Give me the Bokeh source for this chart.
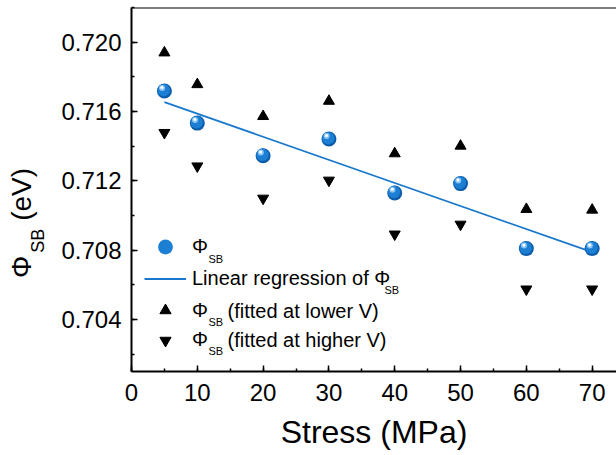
import numpy as np
from bokeh.plotting import figure
from bokeh.layouts import row
from bokeh.models import (Range1d, SingleIntervalTicker, NumeralTickFormatter,
                          Legend, LegendItem, Label, Span, Div)
from bokeh.transform import dodge
from bokeh.embed import file_html
from bokeh.resources import INLINE

# ---- data ----
stress = [5, 10, 20, 30, 40, 50, 60, 70]
phi_sb = [0.71718, 0.71533, 0.71345, 0.71441, 0.71130, 0.71184, 0.70809, 0.70809]
phi_lower_v = [0.71939, 0.71756, 0.71572, 0.71660, 0.71357, 0.71401, 0.71036, 0.71032]
phi_higher_v = [0.71478, 0.71285, 0.71099, 0.71203, 0.70892, 0.70949, 0.70575, 0.70575]
x_tick_interval = 10
y_tick_interval = 0.004

FONT = "Liberation Sans"
BLUE = "#1a78cc"
SIDE_W = 50

# linear regression of phi_sb
slope, intercept = np.polyfit(stress, phi_sb, 1)
fit_x = [stress[0], stress[-1]]
fit_y = [slope * v + intercept for v in fit_x]

# ---------- rotated y-axis title (HTML text, rotated with CSS) ----------
ytitle_html = (
    "<div style=\"position:absolute; left:8px; top:278px; transform-origin:0 0; "
    "transform:rotate(-90deg); white-space:nowrap; font-family:'Liberation Sans'; "
    "font-size:28px; line-height:28px; color:black;\">"
    "Φ<span style=\"font-size:18px; position:relative; top:13px; padding-left:3px;\">SB</span>"
    "&nbsp;(eV)</div>"
)
side = Div(text=ytitle_html, width=SIDE_W, height=455, margin=0,
           styles={"overflow": "visible", "position": "relative"})

# ---------- main plot ----------
p = figure(width=616 - SIDE_W, height=455, output_backend="svg", toolbar_location=None,
           x_range=Range1d(0, 73.7), y_range=Range1d(0.701, 0.722),
           min_border_left=131 - SIDE_W, min_border_right=0, min_border_top=7,
           min_border_bottom=84, margin=0)
p.outline_line_color = None
p.grid.visible = False
p.background_fill_color = "white"
p.border_fill_color = "white"

for ax in (p.xaxis[0], p.yaxis[0]):
    ax.axis_line_width = 2
    ax.axis_line_color = "black"
    ax.major_tick_in = 6
    ax.major_tick_out = 0
    ax.minor_tick_in = 3
    ax.minor_tick_out = 0
    ax.major_tick_line_width = 1.5
    ax.minor_tick_line_width = 1.5
    ax.major_tick_line_color = "black"
    ax.minor_tick_line_color = "black"
    ax.major_label_text_font = FONT
    ax.major_label_text_font_size = "24px"
    ax.major_label_text_color = "black"

xa = p.xaxis[0]
xa.ticker = SingleIntervalTicker(interval=x_tick_interval, num_minor_ticks=2)
xa.major_label_standoff = 12
xa.axis_label = "Stress (MPa)"
xa.axis_label_text_font = FONT
xa.axis_label_text_font_size = "32px"
xa.axis_label_text_font_style = "normal"
xa.axis_label_text_color = "black"
xa.axis_label_standoff = 10

ya = p.yaxis[0]
ya.ticker = SingleIntervalTicker(interval=y_tick_interval, num_minor_ticks=2)
ya.formatter = NumeralTickFormatter(format="0.000")
ya.major_label_standoff = 10

# top frame line
p.add_layout(Span(location=p.y_range.end, dimension="width",
                  line_color="black", line_width=2))

# regression line
r_line = p.line(fit_x, fit_y, line_color=BLUE, line_width=1.8)

# triangles
r_up = p.scatter(stress, phi_lower_v, marker="triangle", size=11,
                 fill_color="black", line_color="black")
r_down = p.scatter(stress, phi_higher_v, marker="inverted_triangle", size=11,
                   fill_color="black", line_color="black")

# shaded spheres
src = {"x": stress, "y": phi_sb}
r_base = p.scatter(x="x", y="y", source=src, marker="circle", size=15,
                   fill_color="#0b5cab", line_color=None)
r_mid = p.scatter(x=dodge("x", -0.1, range=p.x_range), y=dodge("y", 0.00005, range=p.y_range),
                  source=src, marker="circle", size=12.5,
                  fill_color="#1c7fd3", line_color=None)
r_hl = p.scatter(x=dodge("x", -0.35, range=p.x_range), y=dodge("y", 0.00018, range=p.y_range),
                 source=src, marker="circle", size=6,
                 fill_color="#8cc6f5", line_color=None)
r_hl2 = p.scatter(x=dodge("x", -0.38, range=p.x_range), y=dodge("y", 0.00021, range=p.y_range),
                  source=src, marker="circle", size=3,
                  fill_color="white", line_color=None)

# legend: one box per row so each symbol gets its own size / position
def add_legend(label, renderer, glyph_h, center_from_bottom):
    lg = Legend(items=[LegendItem(label=label, renderers=[renderer])],
                location=(13, center_from_bottom - glyph_h / 2))
    lg.label_text_font = FONT
    lg.label_text_font_size = "20px"
    lg.label_text_color = "black"
    lg.glyph_width = 42
    lg.glyph_height = glyph_h
    lg.label_height = 23
    lg.label_standoff = 6
    lg.spacing = 0
    lg.padding = 0
    lg.margin = 0
    lg.border_line_color = None
    lg.background_fill_alpha = 0
    p.add_layout(lg)

add_legend("Φ", r_mid, 37, 124.5)
add_legend("Linear regression of Φ", r_line, 23, 93)
add_legend("Φ", r_up, 28, 61)
add_legend("Φ", r_down, 28, 31.5)

def lab(text, x, y, size, baseline="alphabetic"):
    p.add_layout(Label(text=text, x=x, y=y, x_units="screen", y_units="screen",
                       text_font=FONT, text_font_size=size, text_color="black",
                       text_baseline=baseline, text_align="left"))

# legend subscripts and trailing texts
lab("SB", 77, 113, "11px")
lab("SB", 253, 81.5, "11px")
lab("SB", 77, 50, "11px")
lab("SB", 77, 20.5, "11px")
lab("(fitted at lower V)", 96, 61, "20px", baseline="middle")
lab("(fitted at higher V)", 96, 31.5, "20px", baseline="middle")

layout = row(side, p, spacing=0, margin=0)
open("out.html", "w").write(file_html(layout, INLINE))
